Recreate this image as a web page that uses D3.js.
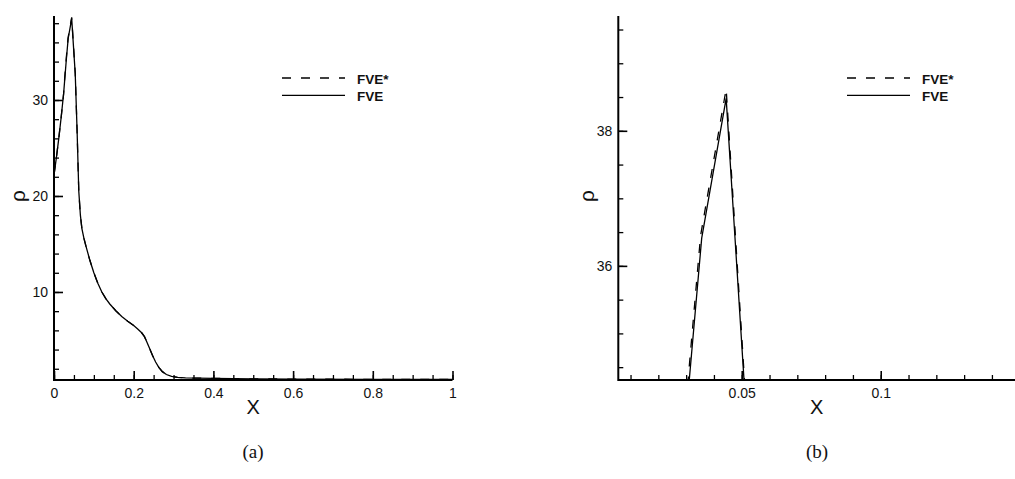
<!DOCTYPE html>
<html>
<head>
<meta charset="utf-8">
<script src="https://cdn.jsdelivr.net/npm/d3@7/dist/d3.min.js"></script>
<style>
  html, body { margin: 0; padding: 0; background: #fff; }
  svg { display: block; }
  .tick text { font-family: "Liberation Sans", Arial, sans-serif; font-size: 14px; fill: #111; }
</style>
</head>
<body>
<svg id="chart" width="1015" height="479"></svg>
<script>
// Density profile rho(x): FVE and FVE* solutions
const fveX = [0, 0.006, 0.012, 0.018, 0.024, 0.0267, 0.0311, 0.0356, 0.0444, 0.0533, 0.0578, 0.0622, 0.0662, 0.07, 0.075, 0.08, 0.09, 0.1, 0.11, 0.12, 0.13, 0.14, 0.155, 0.17, 0.185, 0.2, 0.21, 0.22, 0.227, 0.233, 0.24, 0.247, 0.255, 0.263, 0.272, 0.282, 0.295, 0.31, 0.33, 0.36, 0.4, 0.5, 0.6, 0.8, 1.0];
const fveY = [22.2, 24.0, 26.0, 28.2, 30.6, 32.0, 34.3, 36.41, 38.48, 32.7, 27.0, 20.5, 18.0, 16.6, 15.6, 14.8, 13.3, 12.0, 10.9, 10.0, 9.3, 8.75, 8.05, 7.45, 6.95, 6.5, 6.15, 5.75, 5.35, 4.8, 4.1, 3.4, 2.7, 2.15, 1.7, 1.4, 1.2, 1.1, 1.05, 1.02, 1.0, 0.95, 0.92, 0.9, 0.88];

const fveStarX = [0, 0.006, 0.012, 0.018, 0.024, 0.0267, 0.0311, 0.0352, 0.0444, 0.0533, 0.0578, 0.0622, 0.0662, 0.07, 0.075, 0.08, 0.09, 0.1, 0.11, 0.12, 0.13, 0.14, 0.155, 0.17, 0.185, 0.2, 0.21, 0.22, 0.227, 0.233, 0.24, 0.247, 0.255, 0.263, 0.272, 0.282, 0.295, 0.31, 0.33, 0.36, 0.4, 0.5, 0.6, 0.8, 1.0];
const fveStarY = [22.2, 24.0, 26.0, 28.2, 30.6, 32.2, 34.5, 36.45, 38.62, 32.8, 27.0, 20.5, 18.0, 16.6, 15.6, 14.8, 13.3, 12.0, 10.9, 10.0, 9.3, 8.75, 8.05, 7.45, 6.95, 6.5, 6.15, 5.75, 5.35, 4.8, 4.1, 3.4, 2.7, 2.15, 1.7, 1.4, 1.2, 1.1, 1.05, 1.02, 1.0, 0.95, 0.92, 0.9, 0.88];

const seriesNames = ["FVE*", "FVE"];

// Axis ticks for the full view (a) and the peak close-up (b)
const xTicksA = [0, 0.2, 0.4, 0.6, 0.8, 1];
const xTickLabelsA = ["0", "0.2", "0.4", "0.6", "0.8", "1"];
const yTicksA = [10, 20, 30];
const yTickLabelsA = ["10", "20", "30"];
const xTicksB = [0.05, 0.1];
const xTickLabelsB = ["0.05", "0.1"];
const yTicksB = [36, 38];
const yTickLabelsB = ["36", "38"];
const captions = ["(a)", "(b)"];

const fve = fveX.map((x, i) => ({ x, y: fveY[i] }));
const fveStar = fveStarX.map((x, i) => ({ x, y: fveStarY[i] }));

const svg = d3.select("#chart");

const panels = [
  {
    id: "a",
    xDomain: [0, 1], xRange: [54, 452.5],
    yDomain: [0.83, 38.75], yRange: [380, 16],
    xTicks: xTicksA, xLabels: xTickLabelsA, xMinorStep: 0.05,
    yTicks: yTicksA, yLabels: yTickLabelsA, yMinorStep: 2,
    legend: { x0: 282, x1: 345, tx: 357, y: 78 },
    rhoX: 14, captionX: 253, caption: captions[0]
  },
  {
    id: "b",
    xDomain: [0.0056, 0.1483], xRange: [618.3, 1015],
    yDomain: [34.31, 39.70], yRange: [380, 16],
    xTicks: xTicksB, xLabels: xTickLabelsB, xMinorStep: 0.01,
    yTicks: yTicksB, yLabels: yTickLabelsB, yMinorStep: 0.5,
    legend: { x0: 847, x1: 910, tx: 922, y: 78 },
    rhoX: 583, captionX: 817, caption: captions[1]
  }
];

function minorValues(domain, step) {
  const out = [];
  const start = Math.ceil(domain[0] / step - 1e-9);
  const end = Math.floor(domain[1] / step + 1e-9);
  for (let k = start; k <= end; k++) out.push(+(k * step).toFixed(6));
  return out;
}

panels.forEach(p => {
  const x = d3.scaleLinear().domain(p.xDomain).range(p.xRange);
  const y = d3.scaleLinear().domain(p.yDomain).range(p.yRange);
  const g = svg.append("g").attr("class", "panel-" + p.id);

  // clip curves to the plotting area
  const clipId = "clip-" + p.id;
  svg.append("clipPath").attr("id", clipId)
    .append("rect")
    .attr("x", p.xRange[0]).attr("y", p.yRange[1])
    .attr("width", p.xRange[1] - p.xRange[0])
    .attr("height", p.yRange[0] - p.yRange[1]);

  const line = d3.line().x(d => x(d.x)).y(d => y(d.y));
  const curves = g.append("g").attr("clip-path", `url(#${clipId})`);
  curves.append("path").datum(fveStar)
    .attr("d", line).attr("fill", "none")
    .attr("stroke", "#000").attr("stroke-width", 1.3)
    .attr("stroke-dasharray", "9,10");
  curves.append("path").datum(fve)
    .attr("d", line).attr("fill", "none")
    .attr("stroke", "#000").attr("stroke-width", 1.3);

  const bottomY = p.yRange[0];
  const leftX = p.xRange[0];

  // minor ticks (inward)
  g.append("g").attr("transform", `translate(0,${bottomY})`)
    .call(d3.axisBottom(x).tickValues(minorValues(p.xDomain, p.xMinorStep)).tickSize(-5).tickFormat(""))
    .call(s => s.select(".domain").remove())
    .call(s => s.selectAll(".tick line").attr("stroke", "#000").attr("stroke-width", 1.3));
  g.append("g").attr("transform", `translate(${leftX},0)`)
    .call(d3.axisLeft(y).tickValues(minorValues(p.yDomain, p.yMinorStep)).tickSize(-5).tickFormat(""))
    .call(s => s.select(".domain").remove())
    .call(s => s.selectAll(".tick line").attr("stroke", "#000").attr("stroke-width", 1.3));

  // major ticks with labels
  g.append("g").attr("transform", `translate(0,${bottomY})`)
    .call(d3.axisBottom(x).tickValues(p.xTicks).tickSize(-9).tickPadding(4)
      .tickFormat((d, i) => p.xLabels[i]))
    .call(s => s.select(".domain").remove())
    .call(s => s.selectAll(".tick line").attr("stroke", "#000").attr("stroke-width", 1.6))
    .call(s => s.selectAll(".tick text").attr("dy", "1.0em"));
  g.append("g").attr("transform", `translate(${leftX},0)`)
    .call(d3.axisLeft(y).tickValues(p.yTicks).tickSize(-9).tickPadding(6)
      .tickFormat((d, i) => p.yLabels[i]))
    .call(s => s.select(".domain").remove())
    .call(s => s.selectAll(".tick line").attr("stroke", "#000").attr("stroke-width", 1.6));

  // axis lines
  g.append("line")
    .attr("x1", p.xRange[0]).attr("x2", p.xRange[1])
    .attr("y1", bottomY).attr("y2", bottomY)
    .attr("stroke", "#000").attr("stroke-width", 2);
  g.append("line")
    .attr("x1", leftX).attr("x2", leftX)
    .attr("y1", p.yRange[1]).attr("y2", bottomY + 1)
    .attr("stroke", "#000").attr("stroke-width", 2);

  // axis titles
  g.append("text")
    .attr("x", (p.xRange[0] + p.xRange[1]) / 2).attr("y", 414)
    .attr("text-anchor", "middle")
    .attr("font-family", "Liberation Sans, Arial, sans-serif")
    .attr("font-size", 20).attr("fill", "#111")
    .text("X");
  g.append("text")
    .attr("transform", `translate(${p.rhoX + 11},196) rotate(-90)`)
    .attr("text-anchor", "middle")
    .attr("font-family", "Liberation Sans, Arial, sans-serif")
    .attr("font-size", 21).attr("fill", "#111")
    .text("ρ");

  // legend
  const lg = g.append("g");
  const rows = [{ name: seriesNames[0], dash: "9,10" }, { name: seriesNames[1], dash: null }];
  rows.forEach((r, i) => {
    const yy = p.legend.y + i * 17.3;
    lg.append("line")
      .attr("x1", p.legend.x0).attr("x2", p.legend.x1)
      .attr("y1", yy).attr("y2", yy)
      .attr("stroke", "#000").attr("stroke-width", 1.3)
      .attr("stroke-dasharray", r.dash);
    lg.append("text")
      .attr("x", p.legend.tx).attr("y", yy + 5.5)
      .attr("font-family", "Liberation Sans, Arial, sans-serif")
      .attr("font-weight", "bold").attr("font-size", 13.5).attr("fill", "#111")
      .text(r.name);
  });

  // caption
  g.append("text")
    .attr("x", p.captionX).attr("y", 458)
    .attr("text-anchor", "middle")
    .attr("font-family", "Liberation Serif, 'DejaVu Serif', serif")
    .attr("font-size", 19).attr("fill", "#111")
    .text(p.caption);
});
</script>
</body>
</html>
